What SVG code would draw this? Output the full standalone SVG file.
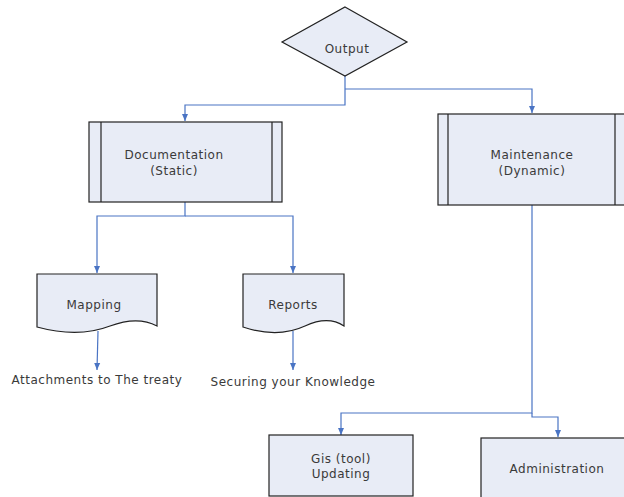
<svg xmlns="http://www.w3.org/2000/svg" width="624" height="497" viewBox="0 0 624 497">
<defs>
<marker id="arr" markerWidth="8" markerHeight="8" refX="7" refY="4" orient="auto" markerUnits="userSpaceOnUse">
<path d="M0,1 L7,4 L0,7 Z" fill="#4a74c4"/>
</marker>
<style>
.shape{fill:#e8ecf6;stroke:#222;stroke-width:1.2}
.inner{fill:none;stroke:#222;stroke-width:1.2}
.conn{fill:none;stroke:#4a74c4;stroke-width:1.2}
text{font-family:"DejaVu Sans",Verdana,sans-serif;font-size:12px;letter-spacing:0.5px;fill:#3a3a3a;text-anchor:middle}
</style>
</defs>
<rect width="624" height="497" fill="#fff"/>
<g id="connectors">
<path class="conn" d="M345,76 V105 H185 V121" marker-end="url(#arr)"/>
<path class="conn" d="M345,89 H532 V113" marker-end="url(#arr)"/>
<path class="conn" d="M185,202 V216 H97 V273" marker-end="url(#arr)"/>
<path class="conn" d="M185,216 H293 V273" marker-end="url(#arr)"/>
<path class="conn" d="M98,331 L97,370" marker-end="url(#arr)"/>
<path class="conn" d="M293,331 V370" marker-end="url(#arr)"/>
<path class="conn" d="M532,205 V413 H341 V435" marker-end="url(#arr)"/>
<path class="conn" d="M532,413 V417 H558 V437" marker-end="url(#arr)"/>
</g>
<g id="output">
<polygon class="shape" points="345,7 407,42 345,76 282,42"/>
<text x="347" y="53">Output</text>
</g>
<g id="documentation">
<rect class="shape" x="89" y="122" width="193" height="80"/>
<line class="inner" x1="101" y1="122" x2="101" y2="202"/>
<line class="inner" x1="272" y1="122" x2="272" y2="202"/>
<text x="174" y="159">Documentation</text>
<text x="174" y="175">(Static)</text>
</g>
<g id="maintenance">
<rect class="shape" x="438" y="114" width="190" height="91"/>
<line class="inner" x1="448" y1="114" x2="448" y2="205"/>
<line class="inner" x1="615" y1="114" x2="615" y2="205"/>
<text x="532" y="159">Maintenance</text>
<text x="532" y="175">(Dynamic)</text>
</g>
<g id="mapping">
<path class="shape" d="M37,274 H157 V326 C142,318 126,320 110,326 C92,333 70,336 37,327 Z"/>
<text x="94" y="309">Mapping</text>
</g>
<g id="reports">
<path class="shape" d="M243,274 H344 V326 C332,318 318,320 305,326 C290,333 270,336 243,327 Z"/>
<text x="293" y="309">Reports</text>
</g>
<g id="attachments">
<text x="97" y="384">Attachments to The treaty</text>
</g>
<g id="securing">
<text x="293" y="386">Securing your Knowledge</text>
</g>
<g id="gis">
<rect class="shape" x="269" y="435" width="144" height="61"/>
<text x="341" y="463">Gis (tool)</text>
<text x="341" y="478">Updating</text>
</g>
<g id="administration">
<rect class="shape" x="481" y="438" width="150" height="70"/>
<text x="557" y="473">Administration</text>
</g>
</svg>
